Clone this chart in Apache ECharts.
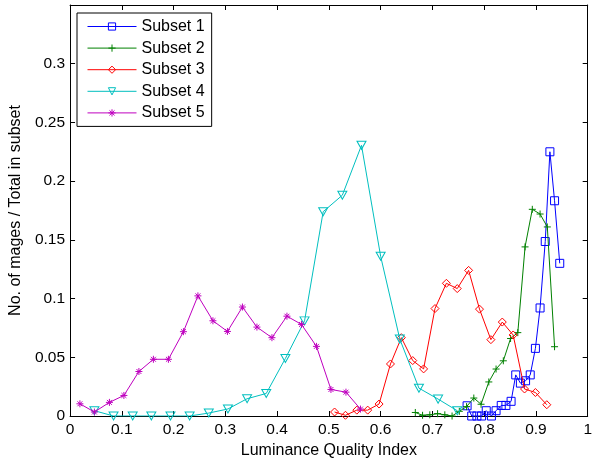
<!DOCTYPE html>
<html>
<head>
<meta charset="utf-8">
<script src="https://cdn.jsdelivr.net/npm/echarts@6/dist/echarts.min.js"></script>
<style>html,body{margin:0;padding:0;background:#fff;}#c{width:595px;height:464px;}</style>
</head>
<body>
<div id="c"></div>
<script>
const seriesNames = ['Subset 1', 'Subset 2', 'Subset 3', 'Subset 4', 'Subset 5'];

const subset1X = [0.767, 0.776, 0.786, 0.795, 0.804, 0.814, 0.823, 0.833, 0.842, 0.852, 0.861, 0.870, 0.880, 0.889, 0.899, 0.908, 0.918, 0.927, 0.936, 0.946];
const subset1Y = [0.0087, 0, 0, 0, 0.0045, 0, 0.0045, 0.009, 0.009, 0.0125, 0.035, 0.028, 0.030, 0.035, 0.0576, 0.092, 0.1486, 0.225, 0.1833, 0.130];

const subset2X = [0.667, 0.681, 0.695, 0.710, 0.724, 0.738, 0.752, 0.766, 0.780, 0.794, 0.809, 0.823, 0.837, 0.851, 0.865, 0.879, 0.893, 0.908, 0.922, 0.936];
const subset2Y = [0.003, 0.0006, 0.001, 0.002, 0.001, 0.0, 0.004, 0.008, 0.0153, 0.010, 0.029, 0.040, 0.047, 0.066, 0.071, 0.144, 0.176, 0.172, 0.161, 0.059];

const subset3X = [0.511, 0.532, 0.554, 0.575, 0.597, 0.619, 0.640, 0.662, 0.683, 0.705, 0.727, 0.748, 0.770, 0.791, 0.813, 0.835, 0.856, 0.878, 0.899, 0.921];
const subset3Y = [0.0034, 0.0006, 0.005, 0.005, 0.0102, 0.0443, 0.0667, 0.0472, 0.0401, 0.0915, 0.113, 0.1085, 0.124, 0.091, 0.065, 0.080, 0.069, 0.023, 0.020, 0.0096];

const subset4X = [0.047, 0.084, 0.121, 0.157, 0.194, 0.231, 0.268, 0.305, 0.342, 0.379, 0.416, 0.453, 0.489, 0.526, 0.563, 0.600, 0.637, 0.674, 0.711, 0.748];
const subset4Y = [0.0045, 0, 0, 0, 0, 0, 0.0025, 0.006, 0.0147, 0.0192, 0.049, 0.081, 0.174, 0.188, 0.2305, 0.136, 0.0655, 0.0237, 0.0144, 0.0045];

const subset5X = [0.019, 0.047, 0.076, 0.104, 0.133, 0.161, 0.190, 0.219, 0.247, 0.276, 0.304, 0.333, 0.361, 0.390, 0.419, 0.447, 0.476, 0.504, 0.533, 0.561];
const subset5Y = [0.0104, 0.0034, 0.0116, 0.0175, 0.0379, 0.0483, 0.0483, 0.0718, 0.1023, 0.0811, 0.072, 0.0928, 0.0757, 0.0667, 0.085, 0.078, 0.0593, 0.0226, 0.0203, 0.0059];

const xTickValues = [0, 0.1, 0.2, 0.3, 0.4, 0.5, 0.6, 0.7, 0.8, 0.9, 1];
const yTickValues = [0, 0.05, 0.1, 0.15, 0.2, 0.25, 0.3];

const allX = [subset1X, subset2X, subset3X, subset4X, subset5X];
const allY = [subset1Y, subset2Y, subset3Y, subset4Y, subset5Y];
const colors = ['#0000ff', '#008000', '#ff0000', '#00bfbf', '#bf00bf'];
const symbols = [
  'path://M0,0L10,0L10,10L0,10Z',
  'path://M5,0L5,10M0,5L10,5',
  'path://M5,0L10,5L5,10L0,5Z',
  'path://M0,0L10,0L5,9Z',
  'path://M5,0L5,10M0,5L10,5M1.5,1.5L8.5,8.5M1.5,8.5L8.5,1.5'
];
const sizes = [[8, 8], [7, 7], [8, 8], [9, 8], [7, 7]];

const FONT = 'Liberation Sans, Arial, Helvetica, sans-serif';

const series = seriesNames.map((name, i) => ({
  name: name,
  type: 'line',
  data: allX[i].map((x, j) => [x, allY[i][j]]),
  symbol: symbols[i],
  symbolSize: sizes[i],
  showAllSymbol: true,
  color: colors[i],
  lineStyle: { color: colors[i], width: 1 },
  itemStyle: { color: 'rgba(0,0,0,0)', borderColor: colors[i], borderWidth: 1 },
  emphasis: { disabled: true },
  animation: false,
  z: 2 + i
}));

const chart = echarts.init(document.getElementById('c'), null, { renderer: 'canvas' });
chart.setOption({
  animation: false,
  backgroundColor: '#fff',
  grid: { left: 69, right: 4, top: 5, bottom: 46, show: false },
  legend: {
    orient: 'vertical',
    left: 77,
    top: 13,
    data: seriesNames,
    itemWidth: 49,
    itemHeight: 9,
    itemGap: 3.6,
    padding: [4.5, 7, 4.5, 10],
    borderColor: '#000',
    borderWidth: 1,
    backgroundColor: '#fff',
    lineStyle: { width: 1 },
    itemStyle: { borderWidth: 1 },
    textStyle: { fontFamily: FONT, fontSize: 16, color: '#000', lineHeight: 18 },
    selectedMode: false
  },
  xAxis: [{
    type: 'value', min: 0, max: 1, interval: 0.1,
    name: 'Luminance Quality Index', nameLocation: 'middle', nameGap: 27,
    nameTextStyle: { fontFamily: FONT, fontSize: 16, color: '#000' },
    axisLine: { show: true, onZero: false, lineStyle: { color: '#000', width: 1 } },
    axisTick: { show: true, inside: true, length: 5, lineStyle: { color: '#000' } },
    axisLabel: { fontFamily: FONT, fontSize: 15.5, color: '#000', margin: 6,
      formatter: v => { const t = xTickValues.find(a => Math.abs(a - v) < 1e-6); return t === undefined ? '' : String(t); } },
    splitLine: { show: false }
  }, {
    type: 'value', min: 0, max: 1, interval: 0.1, position: 'top',
    axisLine: { show: true, onZero: false, lineStyle: { color: '#000', width: 1 } },
    axisTick: { show: true, inside: true, length: 5, lineStyle: { color: '#000' } },
    axisLabel: { show: false }, splitLine: { show: false }
  }],
  yAxis: [{
    type: 'value', min: 0, max: 0.35, interval: 0.05,
    name: 'No. of mages / Total in subset', nameLocation: 'middle', nameGap: 45,
    nameTextStyle: { fontFamily: FONT, fontSize: 16, color: '#000' },
    axisLine: { show: true, onZero: false, lineStyle: { color: '#000', width: 1 } },
    axisTick: { show: true, inside: true, length: 5, lineStyle: { color: '#000' } },
    axisLabel: { fontFamily: FONT, fontSize: 15.5, color: '#000', margin: 5,
      formatter: v => { const t = yTickValues.find(a => Math.abs(a - v) < 1e-6); return t === undefined ? '' : String(t); } },
    splitLine: { show: false }
  }, {
    type: 'value', min: 0, max: 0.35, interval: 0.05, position: 'right',
    axisLine: { show: true, onZero: false, lineStyle: { color: '#000', width: 1 } },
    axisTick: { show: true, inside: true, length: 5, lineStyle: { color: '#000' } },
    axisLabel: { show: false }, splitLine: { show: false }
  }],
  series: series
});
</script>
</body>
</html>
